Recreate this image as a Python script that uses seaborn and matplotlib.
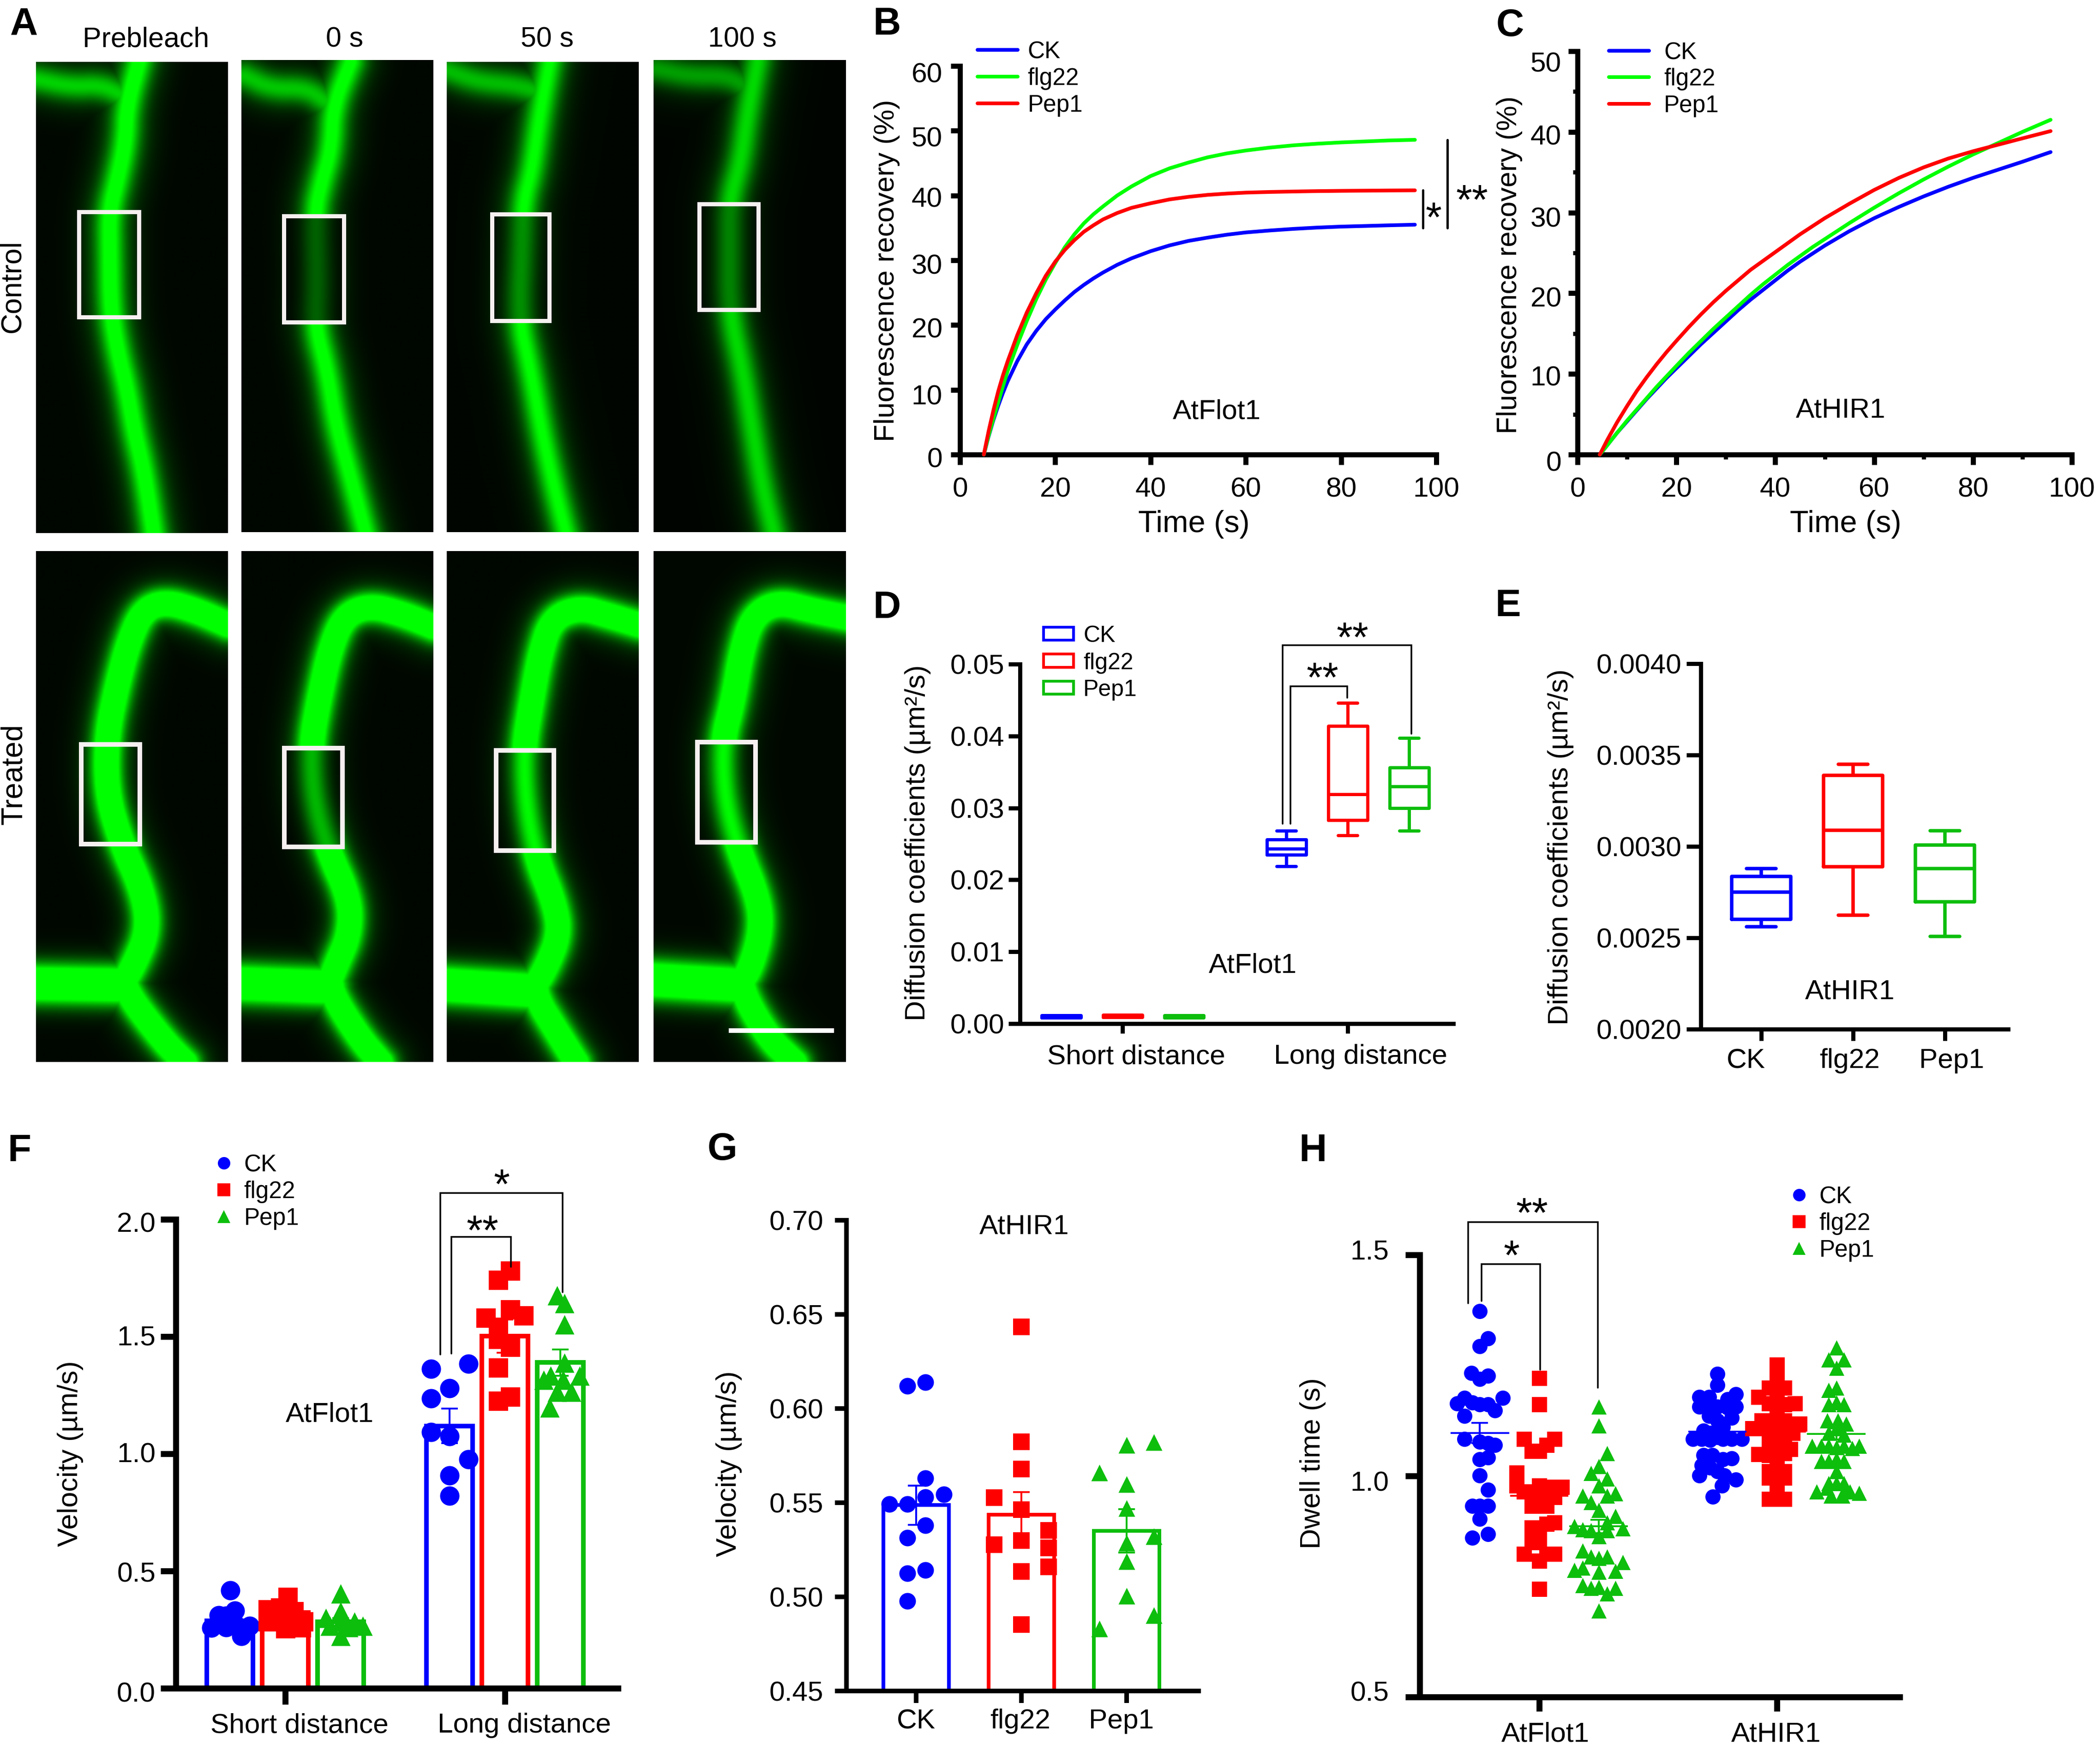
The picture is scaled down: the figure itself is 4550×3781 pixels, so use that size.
import numpy as np
import pandas as pd
import matplotlib
matplotlib.use("Agg")
import matplotlib.pyplot as plt
import seaborn as sns
from matplotlib.colors import LinearSegmentedColormap
from matplotlib.lines import Line2D
from matplotlib.patches import Patch, Rectangle
from matplotlib.transforms import ScaledTranslation

# ------------------------------------------------------------------ data
TREAT = ["CK", "flg22", "Pep1"]
BLUE, RED, GREEN, LIME = "#0000FF", "#FF0000", "#0DBE0D", "#00FF00"

B_T = [5, 6, 7, 8, 9, 10, 12, 14, 16, 18, 20, 22, 24, 26, 28, 30, 33, 36, 40, 44, 48, 52, 56, 60, 65, 70, 75, 80, 85, 90, 95.5]
B_CK = [0, 2.8, 5.3, 7.5, 9.5, 11.3, 14.4, 17.0, 19.1, 20.9, 22.4, 23.8, 25.1, 26.2, 27.2, 28.1, 29.3, 30.3, 31.4, 32.3, 33.0,
        33.5, 33.95, 34.3, 34.6, 34.85, 35.05, 35.2, 35.3, 35.4, 35.5]
B_FLG = [0, 2.9, 5.5, 8.0, 10.5, 12.9, 16.9, 20.6, 24.0, 27.0, 29.6, 32.0, 34.0, 35.7, 37.1, 38.3, 40.0, 41.4, 43, 44.2, 45.1,
         45.9, 46.5, 46.95, 47.4, 47.75, 48.0, 48.2, 48.35, 48.5, 48.6]
B_PEP = [0, 3.6, 6.8, 9.7, 12.2, 14.4, 18.4, 21.9, 24.9, 27.6, 29.8, 31.6, 33.1, 34.4, 35.4, 36.3, 37.3, 38.1, 38.8, 39.4, 39.8,
         40.1, 40.3, 40.45, 40.55, 40.62, 40.68, 40.72, 40.75, 40.78, 40.8]

C_T = [4.5, 6, 8, 10, 12, 14, 16, 18, 20, 22.5, 25, 27.5, 30, 32.5, 35, 37.5, 40, 42.5, 45, 47.5, 50, 55, 60, 65, 70, 75, 80, 85, 90, 95.7]
C_CK = [0, 1.15, 2.7, 4.1, 5.5, 6.9, 8.2, 9.5, 10.7, 12.2, 13.7, 15.1, 16.5, 17.9, 19.2, 20.4, 21.6, 22.8, 23.9, 24.9, 25.9,
        27.7, 29.3, 30.7, 32.0, 33.2, 34.3, 35.3, 36.3, 37.5]
C_FLG = [0, 1.15, 2.7, 4.2, 5.6, 7.0, 8.4, 9.7, 11.0, 12.6, 14.1, 15.6, 17.0, 18.4, 19.8, 21.1, 22.3, 23.5, 24.6, 25.7, 26.7,
         28.7, 30.6, 32.4, 34.1, 35.7, 37.2, 38.6, 40, 41.5]
C_PEP = [0, 1.8, 4.0, 6.0, 7.9, 9.6, 11.2, 12.7, 14.1, 15.8, 17.4, 18.9, 20.3, 21.6, 22.9, 24.0, 25.1, 26.2, 27.3, 28.3, 29.3,
         31.1, 32.8, 34.3, 35.6, 36.7, 37.6, 38.4, 39.2, 40.1]

DIST = ["Short distance", "Long distance"]
# five-number summaries: min, q1, median, q3, max
D_SHORT_CK = [0.00085, 0.00085, 0.001, 0.00115, 0.00115]
D_SHORT_FLG = [0.0009, 0.0009, 0.00105, 0.0012, 0.0012]
D_SHORT_PEP = [0.00085, 0.00085, 0.001, 0.00115, 0.00115]
D_LONG_CK = [0.0219, 0.0235, 0.0243, 0.0256, 0.0268]
D_LONG_FLG = [0.0262, 0.0283, 0.0319, 0.0414, 0.0446]
D_LONG_PEP = [0.0268, 0.0300, 0.0330, 0.0356, 0.0397]

E_CK = [0.00256, 0.00260, 0.00275, 0.002836, 0.00288]
E_FLG = [0.002624, 0.00289, 0.003088, 0.00339, 0.00345]
E_PEP = [0.002508, 0.002698, 0.00288, 0.003008, 0.003086]

F_MEAN = [0.288, 0.323, 0.283, 1.119, 1.502, 1.389]
F_SEM = [0.017, 0.015, 0.017, 0.074, 0.070, 0.056]
F_S_CK_Y = [.418, .331, .312, .309, .257, .26, .265, .222, .283, .274]
F_S_CK_DX = [.002, .024, -.051, -.017, -.084, -.017, .09, .053, -.051, .024]
F_S_FLG_Y = [.387, .335, .343, .326, .283, .291, .283, .253, .257]
F_S_FLG_DX = [.013, -.077, -.021, .039, -.077, .002, .083, .002, .073]
F_S_PEP_Y = [.404, .326, .30, .283, .283, .265, .265, .222, .26]
F_S_PEP_DX = [0, 0, -.068, .064, 0, .101, -.049, 0, .036]
F_L_CK_Y = [1.363, 1.384, 1.280, 1.237, 1.093, 1.075, .977, .907, .820]
F_L_CK_DX = [-.084, .086, 0, -.084, -.084, 0, .086, 0, 0]
F_L_FLG_Y = [1.780, 1.740, 1.615, 1.578, 1.589, 1.540, 1.488, 1.454, 1.367, 1.242, 1.225]
F_L_FLG_DX = [.026, -.030, .026, -.086, .086, -.030, -.030, .026, -.030, .026, -.030]
F_L_PEP_Y = [1.676, 1.641, 1.552, 1.388, 1.315, 1.332, 1.332, 1.315, 1.263, 1.263, 1.197]
F_L_PEP_DX = [-.015, .019, .019, .019, -.075, -.043, .088, .013, -.015, .051, -.049]

G_MEAN = [0.5487, 0.5436, 0.535]
G_SEM = [0.0104, 0.012, 0.0115]
G_CK_Y = [.6139, .6119, .5629, .5543, .553, .5493, .5493, .5379, .5314, .5141, .5124, .4979]
G_CK_DX = [.09, -.084, .09, .265, .09, -.254, -.084, .09, -.084, .09, -.084, -.084]
G_FLG_Y = [.6434, .5824, .5678, .5527, .5464, .5352, .530, .5278, .526, .5136, .516, .4853]
G_FLG_DX = [0, 0, 0, -.257, 0, .257, 0, -.257, .257, 0, .257, 0]
G_PEP_Y = [.5807, .582, .5659, .5597, .547, .5286, .532, .5188, .5004, .4903, .4831]
G_PEP_DX = [0, .257, -.257, 0, 0, 0, .257, 0, 0, .257, -.257]

H_GROUPS = ["AtFlot1", "AtHIR1"]
H_MEAN = [1.097, 0.955, 0.886, 1.10, 1.10, 1.095]
H_SEM = [0.023, 0.018, 0.015, 0.012, 0.013, 0.013]
H_F_CK_Y = [1.373, 1.311, 1.293, 1.233, 1.226, 1.219, 1.176, 1.176, 1.164, 1.166, 1.162, 1.162, 1.148, 1.136,
            1.084, 1.077, 1.074, 1.070, 1.042, 1.038, 1.001, .969, .932, .932, .932, .903, .860, .868]
H_F_CK_S = [0, 1.1, 0, -1.1, 1.1, 0, -2, 3, -3, -1, 1.1, 0, 2, -2,
            -2, 0, 1.1, 2, 1.1, 0, 0, 1.1, -1, 0, 1.1, 0, -1, 1.1]
H_F_FLG_Y = [1.2215, 1.162, 1.084, 1.084, 1.07, 1.056, 1.056, 1.007, .978, .978, .975, .975, .964, .964, .952, .952,
             .932, .932, .932, .895, .891, .883, .883, .854, .85, .824, .824, .824, .808, .744]
H_F_FLG_S = [0, 0, -2, 2, 1, -1, 0, -3, -3, 0, 1.5, 3, -2, -1, 0, 2,
             -1, 0, 1, 2, 1, 0, -1, -1, 0, -2, 2, 1, 0, 0]
H_F_PEP_Y = [1.157, 1.114, 1.051, 1.022, 1.006, .994, .955, .978, .960, .955, .941, .923, .909, .895, .886, .877, .879,
             .863, .877, .881, .831, .817, .814, .817, .805, .785, .787, .792, .783, .753, .746, .748, .746, .734, .695]
H_F_PEP_S = [0, 0, 1.1, 0, -1, 1.1, -2.1, 0, 2.2, 1.1, -1, 0, 2.2, 1.1, -3.2, -1, -2.1,
             0, 1.1, 3.2, -2.1, -1, 0, 1.1, 3.2, 2.2, -3.2, -2.1, 0, -2.1, -1, 0, 2.2, 1.1, 0]
H_H_CK_Y = [1.231, 1.206, 1.178, 1.178, 1.185, 1.173, 1.157, 1.154, 1.157, 1.154, 1.157, 1.136, 1.132, 1.125, 1.111, 1.102,
            1.097, 1.088, 1.084, 1.084, 1.081, 1.084, 1.084, 1.084, 1.047, 1.047, 1.038, 1.04, 1.024, 1.019, 1.01, 1.001,
            1.001, .992, .978, .953]
H_H_CK_S = [0, 0, -2.4, -1.1, 2.4, 1.3, -2.4, -1.1, 0, 1.3, 2.4, -1.1, 1.9, 0, .7, -1.8,
            -.7, 0, -3.2, -2.1, -1, .7, 1.9, 3.2, -1.8, -.7, .7, 1.9, -2.1, -1, 0, -2.4,
            .9, 2.4, .6, -.6]
H_H_FLG_Y = [1.252, 1.226, 1.199, 1.199, 1.178, 1.178, 1.164, 1.164, 1.162, 1.148, 1.125, 1.125, 1.125, 1.125, 1.118, 1.107,
             1.107, 1.102, 1.097, 1.097, 1.074, 1.074, 1.074, 1.061, 1.049, 1.047, 1.042, 1.051, 1.024, 1.01, 1.01, .996,
             .996, .996, .969, .948, .948]
H_H_FLG_S = [0, 0, -1, 1, -2.4, 0, -1, 2.4, 1, 0, -2, -1, 0, 1, 3, -3.2,
             -2, -1, 1, 2.1, -1, 0, 1, 1.8, -2.4, -1, 0, 1, 0, -1, 1, -1,
             0, 1, 0, -1, 1]
H_H_PEP_Y = [1.29, 1.263, 1.263, 1.244, 1.194, 1.199, 1.162, 1.162, 1.166, 1.125, 1.125, 1.118, 1.107, 1.097, 1.093, 1.068,
             1.068, 1.068, 1.065, 1.068, 1.063, 1.068, 1.038, 1.033, 1.033, 1.033, 1.01, .983, .983, .983, .964, .973, .964,
             .964, .961, .955, .955]
H_H_PEP_S = [0, -1, 1, 0, -1, 0, 1, -1, 0, .2, -1.2, 1.3, 0, -1, 1, -3.2,
             -2, -1, 0, 1, 2.1, 3, 0, -2, -1, 1, 0, -1, 1, 0, -2.6, -1.2, 1,
             1.8, 3, -.7, .8]

# micrograph strands (image pixel positions)
COLS = [(78, 493), (523, 938), (968, 1383), (1416, 1832)]
ROW1_YS = [(134, 1155), (130, 1153), (134, 1153), (130, 1153)]
ROW2_Y = (1194, 2301)
COL_TITLES = ["Prebleach", "0 s", "50 s", "100 s"]
R1_MAIN = [
    [(300,134),(274,230),(271,306),(255,383),(236,459),(237,551),(239,673),(255,765),(274,842),(290,933),(312,1025),(332,1155)],
    [(759,134),(721,230),(717,321),(695,398),(682,459),(686,612),(682,704),(708,803),(727,918),(759,1033),(791,1153)],
    [(1190,134),(1168,252),(1152,367),(1133,436),(1130,536),(1123,689),(1149,803),(1174,941),(1200,1056),(1225,1153)],
    [(1640,134),(1617,252),(1605,344),(1579,436),(1579,536),(1579,673),(1608,803),(1627,918),(1649,1048),(1675,1153)],
]
R1_BRANCH = [
    [(80,172),(153,187),(217,184),(268,207)],
    [(529,164),(587,191),(663,191),(708,222)],
    [(970,153),(1034,176),(1117,184),(1168,199)],
    [(1423,149),(1493,164),(1576,164),(1621,191)],
]
R2_MAIN = [
    [(493,1353),(424,1322),(357,1303),(309,1322),(279,1387),(254,1479),(230,1594),(230,1716),(261,1823),(309,1931),(321,2015),(285,2099),(261,2133),(351,2252),(400,2301)],
    [(938,1357),(872,1330),(800,1311),(745,1334),(715,1403),(691,1510),(672,1617),(679,1732),(709,1839),(757,1946),(757,2022),(727,2091),(709,2137),(775,2244),(824,2301)],
    [(1383,1353),(1321,1334),(1254,1315),(1194,1341),(1169,1418),(1151,1517),(1133,1624),(1139,1747),(1163,1862),(1200,1954),(1212,2022),(1181,2099),(1151,2145),(1212,2244),(1248,2301)],
    [(1832,1337),(1757,1322),(1684,1303),(1630,1334),(1605,1410),(1587,1517),(1563,1609),(1569,1732),(1599,1839),(1642,1946),(1648,2015),(1624,2099),(1599,2133),(1660,2244),(1720,2301)],
]
R2_BRANCH = [
    [(78,2130),(261,2133)], [(523,2130),(709,2137)], [(968,2133),(1151,2145)], [(1416,2122),(1599,2133)],
]
R1_BOX = [(171,301,459,687), (615,745,468,698), (1066,1190,464,695), (1515,1643,442,671)]
R2_BOX = [(176,303,1613,1829), (616,742,1621,1835), (1075,1200,1626,1843), (1511,1637,1608,1825)]
R1_LEVEL, R1_BLEACH = [1, .95, .9, .75], [1, .35, .55, .6]
R2_LEVEL, R2_BLEACH = [1, 1, 1, 1], [1, .4, .55, .55]

# ------------------------------------------------------------------ set-up
W, H = 4550, 3781
DPI = 300
sns.set_theme(style="ticks")
plt.rcParams["font.family"] = ["Liberation Sans", "DejaVu Sans"]
TICK, LAB, INNER = 14.5, 14.7, 14.5
fig = plt.figure(figsize=((W + .01) / DPI, (H + .01) / DPI), dpi=DPI, facecolor="white")


def pt(px):
    return px * 72 / DPI


def add_ax(x0, x1, y0, y1, **kw):
    return fig.add_axes([x0 / W, 1 - y1 / H, (x1 - x0) / W, (y1 - y0) / H], **kw)


def ftext(x, y, s, **kw):
    kw.setdefault("ha", "center")
    kw.setdefault("va", "center")
    return fig.text(x / W, 1 - y / H, s, **kw)


def star(x, y, s):
    ftext(x, y + 42, s, va="baseline", fontsize=21.5, color="black")


def style(ax, lw_px, xlen, ylen, xpad, ypad):
    sns.despine(ax=ax)
    for k in ("left", "bottom"):
        ax.spines[k].set_linewidth(pt(lw_px))
        ax.spines[k].set_color("black")
    ax.patch.set_alpha(0)
    ax.tick_params(axis="x", which="major", width=pt(lw_px), length=pt(xlen), labelsize=TICK,
                   pad=pt(xpad), color="black", labelcolor="black")
    ax.tick_params(axis="y", which="major", width=pt(lw_px), length=pt(ylen), labelsize=TICK,
                   pad=pt(ypad), color="black", labelcolor="black")
    ax.grid(False)


def ylab(ax, s, x, y, size=LAB):
    ax.set_ylabel(s, fontsize=size, color="black", va="center", ha="center")
    ax.yaxis.set_label_coords(x / W, 1 - y / H, transform=fig.transFigure)


def xlab(ax, s, x, y, size=16):
    ax.set_xlabel(s, fontsize=size, color="black", va="center", ha="center")
    ax.xaxis.set_label_coords(x / W, 1 - y / H, transform=fig.transFigure)


def shift_labels(ax, dxs):
    for lab, dx in zip(ax.get_xticklabels(), dxs):
        lab.set_transform(lab.get_transform() + ScaledTranslation(dx / DPI, 0, fig.dpi_scale_trans))


def shift_ylabels(ax, dys):
    for lab, dy in zip(ax.get_yticklabels(), dys):
        lab.set_transform(lab.get_transform() + ScaledTranslation(0, -dy / DPI, fig.dpi_scale_trans))


def bracket(ax, x0, x1, top, y0, y1):
    ax.plot([x0, x0, x1, x1], [y0, top, top, y1], color="black", lw=pt(3.5), clip_on=False,
            solid_joinstyle="miter", zorder=5)


def legend(ax, handles, x, y, spacing_px, size=12.3, **kw):
    return ax.legend(handles=handles, labels=TREAT, loc="upper left", frameon=False,
                     bbox_to_anchor=(x / W, 1 - y / H), bbox_transform=fig.transFigure,
                     borderaxespad=0, borderpad=0, fontsize=size,
                     labelspacing=(pt(spacing_px) - size) / size, labelcolor="black", **kw)


def line_handles(colors, lw=pt(8)):
    return [Line2D([], [], color=c, lw=lw) for c in colors]


def marker_handles():
    return [Line2D([], [], ls="", marker=m, color=c, ms=pt(27), mew=0)
            for m, c in zip(["o", "s", "^"], [BLUE, RED, GREEN])]


# ------------------------------------------------------------------ A: micrographs
cmap = LinearSegmentedColormap.from_list("gfp", ["#000000", "#00FF00"])


def rounded(path, passes=3):
    pts = np.asarray(path, float)
    for _ in range(passes):
        q = .75 * pts[:-1] + .25 * pts[1:]
        r = .25 * pts[:-1] + .75 * pts[1:]
        mid = np.empty((2 * len(q), 2))
        mid[0::2], mid[1::2] = q, r
        pts = np.vstack([pts[0], mid, pts[-1]])
    return pts


def seg_distance(X, Y, path):
    best = np.full(X.shape, 1e9)
    pts = rounded(path)
    for (ax_, ay_), (bx_, by_) in zip(pts[:-1], pts[1:]):
        dx, dy = bx_ - ax_, by_ - ay_
        t = np.clip(((X - ax_) * dx + (Y - ay_) * dy) / (dx * dx + dy * dy + 1e-9), 0, 1)
        best = np.minimum(best, np.hypot(X - ax_ - t * dx, Y - ay_ - t * dy))
    return best


def micrograph(xr, yr, main, branch, box, level, bleach, core, bcore, tail, gain, branch_gain, box_lw):
    ax = add_ax(xr[0], xr[1], yr[0], yr[1])
    X, Y = np.meshgrid(np.arange(xr[0], xr[1], 3.0), np.arange(yr[0], yr[1], 3.0))
    dm, db = seg_distance(X, Y, main), seg_distance(X, Y, branch)
    glow = gain * np.exp(-(dm / core) ** 2) + .26 * np.exp(-(dm / tail) ** 2)
    glow = np.maximum(glow, branch_gain * (gain * np.exp(-(db / bcore) ** 2) + .26 * np.exp(-(db / tail) ** 2)))
    inside = (X > box[0]) & (X < box[1]) & (Y > box[2]) & (Y < box[3])
    img = np.clip((glow + .025) * np.where(inside, bleach, 1.0) * level, 0, 1)
    ax.imshow(img, cmap=cmap, vmin=0, vmax=1, extent=(xr[0], xr[1], yr[1], yr[0]),
              aspect="auto", interpolation="bilinear")
    ax.add_patch(Rectangle((box[0], box[2]), box[1] - box[0], box[3] - box[2], fill=False,
                           ec="#F6F0F0", lw=pt(box_lw), joinstyle="miter"))
    ax.set_xlim(xr)
    ax.set_ylim(yr[1], yr[0])
    ax.axis("off")
    return ax


for i, xr in enumerate(COLS):
    micrograph(xr, ROW1_YS[i], R1_MAIN[i], R1_BRANCH[i], R1_BOX[i], R1_LEVEL[i], R1_BLEACH[i],
               30, 30, 62, .85, .72, 9)
    a2 = micrograph(xr, ROW2_Y, R2_MAIN[i], R2_BRANCH[i], R2_BOX[i], R2_LEVEL[i], R2_BLEACH[i],
                    30, 38, 62, 1.5, 1.1, 10)
    if i == 3:
        a2.plot([1579, 1807], [2233, 2233], color="white", lw=pt(10), solid_capstyle="butt")
for x, s in zip([316, 747, 1185, 1608], COL_TITLES):
    ftext(x, 86, s, fontsize=14.6, color="black")
ftext(27, 620, "Control", rotation=90, fontsize=15, color="black")
ftext(30, 1678, "Treated", rotation=90, fontsize=15.4, color="black")

# ------------------------------------------------------------------ B
ax = add_ax(2080, 3112, 143, 985)
df = pd.DataFrame({"t": B_T * 3, "v": B_CK + B_FLG + B_PEP,
                   "s": ["CK"] * len(B_T) + ["flg22"] * len(B_T) + ["Pep1"] * len(B_T)})
sns.lineplot(data=df, x="t", y="v", hue="s", hue_order=TREAT, palette=[BLUE, LIME, RED],
             estimator=None, lw=pt(8), legend=False, ax=ax, clip_on=False, zorder=3)
ax.set(xlim=(0, 100), ylim=(0, 60), xticks=range(0, 101, 20), yticks=range(0, 61, 10))
style(ax, 11, 22, 20, 26, 18)
shift_ylabels(ax, [6, 10, 6, 8, 3, 13, 14])
ylab(ax, "Fluorescence recovery (%)", 1921, 586, size=14.9)
xlab(ax, "Time (s)", 2587, 1136)
legend(ax, line_handles([BLUE, LIME, RED]), 2118, 88, 60, handlelength=1.7, handletextpad=.42)
ftext(2636, 892, "AtFlot1", fontsize=INNER, color="black")
ax.plot([97.2, 97.2], [40.8, 35], color="black", lw=pt(5), clip_on=False)
ax.plot([102.3, 102.3], [48.6, 35], color="black", lw=pt(5), clip_on=False)
star(3106, 459, "*")
star(3189, 421, "**")

# ------------------------------------------------------------------ C
ax = add_ax(3418, 4489, 111, 985)
df = pd.DataFrame({"t": C_T * 3, "v": C_CK + C_FLG + C_PEP,
                   "s": ["CK"] * len(C_T) + ["flg22"] * len(C_T) + ["Pep1"] * len(C_T)})
sns.lineplot(data=df, x="t", y="v", hue="s", hue_order=TREAT, palette=[BLUE, LIME, RED],
             estimator=None, lw=pt(8), legend=False, ax=ax, clip_on=False, zorder=3)
ax.set(xlim=(0, 100), ylim=(0, 50), xticks=range(0, 101, 20), yticks=range(0, 51, 10))
ax.set_xticks(range(10, 100, 20), minor=True)
ax.set_yticks(range(5, 50, 10), minor=True)
style(ax, 11, 22, 20, 26, 15)
ax.tick_params(which="minor", width=pt(9), length=pt(10), color="black")
shift_ylabels(ax, [14, 4, 8, 9, 6, 23])
ylab(ax, "Fluorescence recovery (%)", 3270, 574, size=14.7)
xlab(ax, "Time (s)", 3999, 1136)
legend(ax, line_handles([BLUE, LIME, RED]), 3486, 90, 59.5, handlelength=1.7, handletextpad=.62)
ftext(3988, 889, "AtHIR1", fontsize=INNER, color="black")

# ------------------------------------------------------------------ D
ax = add_ax(2210, 3149, 1439, 2218)
rows = []
for grp, vals in zip(DIST, [(D_SHORT_CK, D_SHORT_FLG, D_SHORT_PEP), (D_LONG_CK, D_LONG_FLG, D_LONG_PEP)]):
    for name, v in zip(TREAT, vals):
        rows += [(grp, name, x) for x in v]
df = pd.DataFrame(rows, columns=["g", "s", "v"])
sns.boxplot(data=df, x="g", y="v", hue="s", hue_order=TREAT, order=DIST, palette=[BLUE, RED, GREEN],
            fill=False, width=.8175, gap=.36, whis=(0, 100), linewidth=pt(7), fliersize=0,
            legend=False, ax=ax)
ax.set(xlabel="", xlim=(-.455, 1.469), ylim=(0, .05), yticks=[0, .01, .02, .03, .04, .05])
ax.set_yticklabels(["0.00", "0.01", "0.02", "0.03", "0.04", "0.05"])
style(ax, 9, 21, 25, 23, 9)
ylab(ax, "Diffusion coefficients (µm²/s)", 1988, 1826)
shift_labels(ax, [30, 28])
ax.legend(handles=[Patch(fc="none", ec=c, lw=pt(6)) for c in [BLUE, RED, GREEN]], labels=TREAT,
          loc="upper left", frameon=False, bbox_to_anchor=(2261 / W, 1 - 1355 / H),
          bbox_transform=fig.transFigure, borderaxespad=0, borderpad=0, fontsize=12,
          labelspacing=.25, handlelength=1.3, handleheight=.5, handletextpad=.42, labelcolor="black")
ftext(2714, 2092, "AtFlot1", fontsize=INNER, color="black")
bracket(ax, .711, 1.283, .0526, .0278, .0403)
bracket(ax, .746, .998, .0469, .0278, .0453)
star(2930, 1369, "**")
star(2865, 1456, "**")

# ------------------------------------------------------------------ E
ax = add_ax(3685, 4351, 1438, 2230)
rows = [(n, x) for n, v in zip(TREAT, [E_CK, E_FLG, E_PEP]) for x in v]
df = pd.DataFrame(rows, columns=["s", "v"])
sns.boxplot(data=df, x="s", y="v", hue="s", order=TREAT, hue_order=TREAT, palette=[BLUE, RED, GREEN],
            fill=False, width=.64, whis=(0, 100), linewidth=pt(7.5), fliersize=0, legend=False, ax=ax)
ax.set(xlabel="", xlim=(-.658, 2.688), ylim=(.002, .004), yticks=[.002, .0025, .003, .0035, .004])
ax.set_yticklabels(["0.0020", "0.0025", "0.0030", "0.0035", "0.0040"])
style(ax, 9, 25, 31, 16, 11)
ylab(ax, "Diffusion coefficients (µm²/s)", 3381, 1835)
shift_labels(ax, [-33, -8, 14])
ftext(4008, 2149, "AtHIR1", fontsize=INNER, color="black")

# ------------------------------------------------------------------ F
ax = add_ax(381, 1339, 2642, 3658)
df = pd.DataFrame({"g": [DIST[0]] * 3 + [DIST[1]] * 3, "s": TREAT * 2, "v": F_MEAN})
sns.barplot(data=df, x="g", y="v", hue="s", order=DIST, hue_order=TREAT, palette=[BLUE, RED, GREEN],
            fill=False, width=.756, gap=.167, linewidth=pt(10), errorbar=None, legend=False, ax=ax)
F_SETS = [(F_S_CK_DX, F_S_CK_Y), (F_S_FLG_DX, F_S_FLG_Y), (F_S_PEP_DX, F_S_PEP_Y),
          (F_L_CK_DX, F_L_CK_Y), (F_L_FLG_DX, F_L_FLG_Y), (F_L_PEP_DX, F_L_PEP_Y)]
MARK = ["o", "s", "^"]
COLR = [BLUE, RED, GREEN]
for k, (dx, y) in enumerate(F_SETS):
    g, h = divmod(k, 3)
    c = g + (h - 1) * .252
    sns.scatterplot(x=c + np.asarray(dx), y=y, marker=MARK[h], color=COLR[h], s=pt(42) ** 2, linewidth=0,
                    legend=False, ax=ax, zorder=3, clip_on=False)
    ax.errorbar(c, F_MEAN[k], yerr=F_SEM[k], fmt="none", ecolor=COLR[h], elinewidth=pt(4), capsize=pt(18),
                capthick=pt(4), zorder=4)
ax.set(xlabel="", xlim=(-.498, 1.515), ylim=(0, 2), yticks=[0, .5, 1, 1.5, 2])
ax.set_xticks([0, 1], DIST)
ax.set_yticklabels(["0.0", "0.5", "1.0", "1.5", "2.0"])
style(ax, 13, 35, 33, 18, 11)
shift_ylabels(ax, [8, 2, -3, -3, 6])
ylab(ax, "Velocity (µm/s)", 152, 3150)
shift_labels(ax, [31, 42])
legend(ax, marker_handles(), 454, 2500, 60, handletextpad=.25, handlelength=1.2)
ftext(714, 3065, "AtFlot1", fontsize=INNER, color="black")
bracket(ax, .705, 1.262, 2.113, 1.424, 1.688)
bracket(ax, .756, 1.028, 1.925, 1.428, 1.797)
star(1087, 2554, "*")
star(1045, 2654, "**")

# ------------------------------------------------------------------ G
ax = add_ax(1834, 2597, 2644, 3664)
df = pd.DataFrame({"s": TREAT, "v": G_MEAN})
sns.barplot(data=df, x="s", y="v", hue="s", order=TREAT, hue_order=TREAT, palette=COLR, fill=False,
            width=.623, linewidth=pt(8), errorbar=None, legend=False, ax=ax)
for k, (dx, y) in enumerate([(G_CK_DX, G_CK_Y), (G_FLG_DX, G_FLG_Y), (G_PEP_DX, G_PEP_Y)]):
    sns.scatterplot(x=k + np.asarray(dx), y=y, marker=MARK[k], color=COLR[k], s=pt(36) ** 2, linewidth=0,
                    legend=False, ax=ax, zorder=3, clip_on=False)
    ax.errorbar(k, G_MEAN[k], yerr=G_SEM[k], fmt="none", ecolor=COLR[k], elinewidth=pt(4), capsize=pt(18),
                capthick=pt(4), zorder=4)
ax.set(xlabel="", xlim=(-.662, 2.684), ylim=(.45, .70), yticks=[.45, .5, .55, .6, .65, .7])
ax.set_xticks([0, 1, 2], TREAT)
ax.set_yticklabels(["0.45", "0.50", "0.55", "0.60", "0.65", "0.70"])
style(ax, 10, 26, 25, 12, 25)
ylab(ax, "Velocity (µm/s)", 1579, 3172)
shift_labels(ax, [0, -2, -11])
ftext(2219, 2658, "AtHIR1", fontsize=INNER, color="black")

# ------------------------------------------------------------------ H
ax = add_ax(3076, 4116, 2719, 3677)
H_SETS = [(H_F_CK_S, H_F_CK_Y), (H_F_FLG_S, H_F_FLG_Y), (H_F_PEP_S, H_F_PEP_Y),
          (H_H_CK_S, H_H_CK_Y), (H_H_FLG_S, H_H_FLG_Y), (H_H_PEP_S, H_H_PEP_Y)]
for k, (st, y) in enumerate(H_SETS):
    g, h = divmod(k, 3)
    c = g + (h - 1) * .25
    sns.scatterplot(x=c + np.asarray(st) * .032, y=y, marker=MARK[h], color=COLR[h], s=pt(33) ** 2,
                    linewidth=0, legend=False, ax=ax, zorder=3, clip_on=False)
    ax.hlines(H_MEAN[k], c - .123, c + .123, color=COLR[h], lw=pt(4), zorder=4)
    ax.errorbar(c, H_MEAN[k], yerr=H_SEM[k], fmt="none", ecolor=COLR[h], elinewidth=pt(4), capsize=pt(18),
                capthick=pt(4), zorder=4)
ax.set(xlim=(-.503, 1.517), ylim=(.5, 1.5), yticks=[.5, 1, 1.5])
ax.set_xticks([0, 1], H_GROUPS)
ax.set_yticklabels(["0.5", "1.0", "1.5"])
style(ax, 13, 31, 31, 22, 36)
shift_ylabels(ax, [-13, 11, -12])
ylab(ax, "Dwell time (s)", 2844, 3171)
shift_labels(ax, [13, -2])
legend(ax, marker_handles(), 3867, 2569, 60, handletextpad=.25, handlelength=1.2)
bracket(ax, -.299, .2476, 1.574, 1.390, 1.199)
bracket(ax, -.243, .003, 1.479, 1.396, 1.240)
star(3319, 2616, "**")
star(3275, 2708, "*")

# ------------------------------------------------------------------ panel letters
for s, x, y in [("A", 52, 53), ("B", 1921, 53), ("C", 3272, 56), ("D", 1921, 1317),
                ("E", 3267, 1313), ("F", 42, 2494), ("G", 1565, 2491), ("H", 2844, 2494)]:
    ftext(x, y, s, fontsize=20, fontweight="bold", color="black")

fig.savefig("out.png", dpi=DPI, facecolor="white")
